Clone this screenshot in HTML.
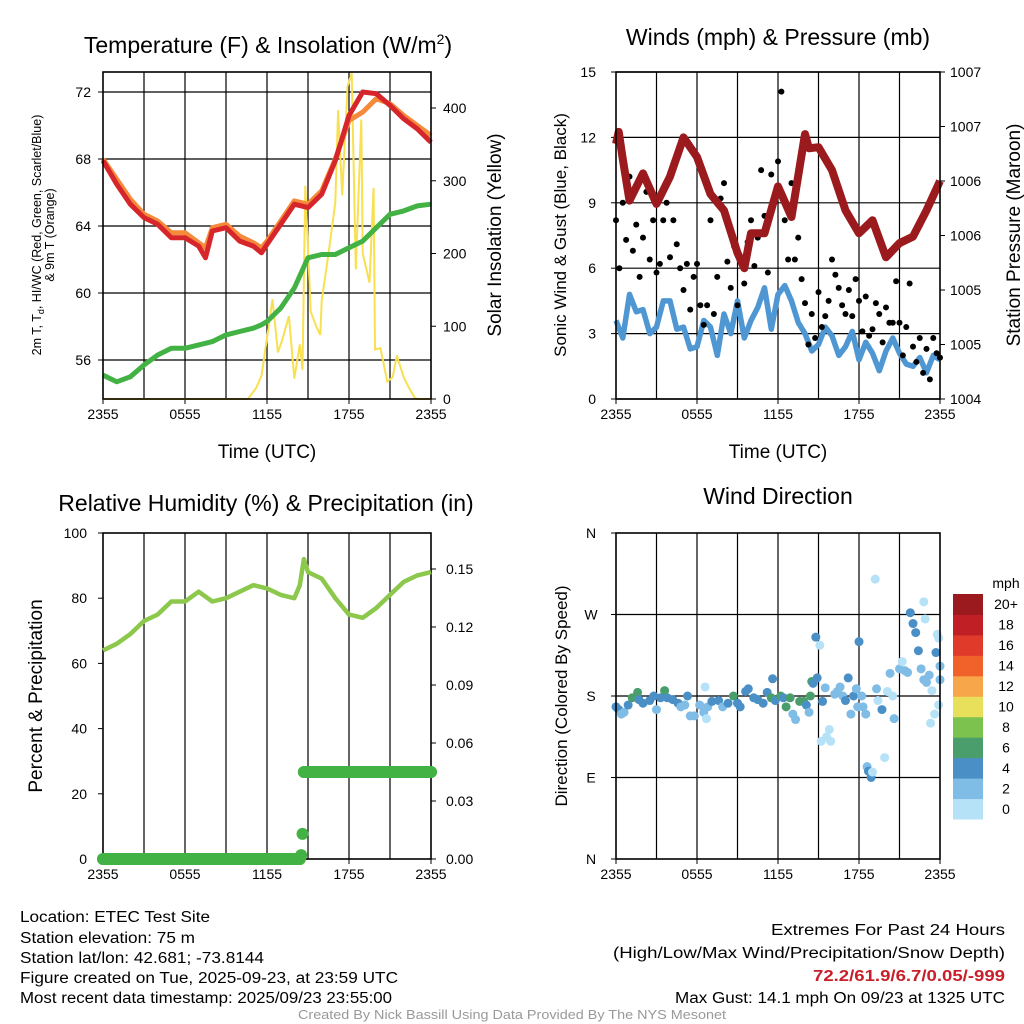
<!DOCTYPE html>
<html><head><meta charset="utf-8"><style>
html,body{margin:0;padding:0;background:#fff;}
svg{display:block;font-family:"Liberation Sans",sans-serif;}
</style></head><body>
<svg id="fig" width="1024" height="1024" viewBox="0 0 1024 1024" xmlns="http://www.w3.org/2000/svg">
<rect width="1024" height="1024" fill="#fff"/>
<g id="p1"></g>
<g id="p2"></g>
<g id="p3"></g>
<g id="p4"></g>

<text x="268" y="53" font-size="23" text-anchor="middle">Temperature (F) &amp; Insolation (W/m<tspan dy="-9" font-size="14">2</tspan><tspan dy="9">)</tspan></text>
<text x="778" y="45" font-size="23" text-anchor="middle">Winds (mph) &amp; Pressure (mb)</text>
<text x="266" y="511" font-size="23" text-anchor="middle">Relative Humidity (%) &amp; Precipitation (in)</text>
<text x="778" y="504" font-size="23" text-anchor="middle">Wind Direction</text>

<text x="267" y="458" font-size="19" text-anchor="middle">Time (UTC)</text>
<text x="778" y="458" font-size="19" text-anchor="middle">Time (UTC)</text>

<text transform="translate(41,235) rotate(-90)" font-size="12.5" text-anchor="middle">2m T, T<tspan dy="3" font-size="9">d</tspan><tspan dy="-3">, HI/WC (Red, Green, Scarlet/Blue)</tspan></text>
<text transform="translate(54,235) rotate(-90)" font-size="12.5" text-anchor="middle">&amp; 9m T (Orange)</text>
<text transform="translate(501,235) rotate(-90)" font-size="19" text-anchor="middle">Solar Insolation (Yellow)</text>
<text transform="translate(566,235) rotate(-90)" font-size="17" text-anchor="middle">Sonic Wind &amp; Gust (Blue, Black)</text>
<text transform="translate(1020,235) rotate(-90)" font-size="19" text-anchor="middle">Station Pressure (Maroon)</text>
<text transform="translate(42,696) rotate(-90)" font-size="19" text-anchor="middle">Percent &amp; Precipitation</text>
<text transform="translate(567,696) rotate(-90)" font-size="17" text-anchor="middle">Direction (Colored By Speed)</text>

<g font-size="15.5">
<text x="20" y="922" textLength="190" lengthAdjust="spacingAndGlyphs">Location: ETEC Test Site</text>
<text x="20" y="943" textLength="175" lengthAdjust="spacingAndGlyphs">Station elevation: 75 m</text>
<text x="20" y="963" textLength="244" lengthAdjust="spacingAndGlyphs">Station lat/lon: 42.681; -73.8144</text>
<text x="20" y="983" textLength="378" lengthAdjust="spacingAndGlyphs">Figure created on Tue, 2025-09-23, at 23:59 UTC</text>
<text x="20" y="1003" textLength="372" lengthAdjust="spacingAndGlyphs">Most recent data timestamp: 2025/09/23 23:55:00</text>
</g>
<g font-size="15.5" text-anchor="end">
<text x="1005" y="935" textLength="234" lengthAdjust="spacingAndGlyphs">Extremes For Past 24 Hours</text>
<text x="1005" y="958" textLength="392" lengthAdjust="spacingAndGlyphs">(High/Low/Max Wind/Precipitation/Snow Depth)</text>
<text x="1005" y="981" fill="#c8202a" font-weight="bold" textLength="192" lengthAdjust="spacingAndGlyphs">72.2/61.9/6.7/0.05/-999</text>
<text x="1005" y="1003" textLength="330" lengthAdjust="spacingAndGlyphs">Max Gust: 14.1 mph On 09/23 at 1325 UTC</text>
</g>
<text x="512" y="1019" font-size="12.5" fill="#999" text-anchor="middle" textLength="428" lengthAdjust="spacingAndGlyphs">Created By Nick Bassill Using Data Provided By The NYS Mesonet</text>
</svg>
<script>
// ---------- data ----------
const xTickLabels = ["2355","0555","1155","1755","2355"];
const hours = [0,1,2,3,4,5,6,7,7.5,8,9,10,11,11.6,12,13,14,15,16,17,18,19,20,21,22,23,24];
const tempRed = [67.9,66.5,65.3,64.5,64.1,63.3,63.3,62.8,62.1,63.7,63.9,63.1,62.8,62.4,62.9,64.1,65.3,65.1,65.9,67.9,70.6,72.0,71.9,71.2,70.4,69.8,69.0];
const tempOrange = [68.0,66.8,65.6,64.7,64.3,63.6,63.6,63.0,62.7,63.9,64.1,63.4,63.0,62.7,63.1,64.3,65.5,65.3,66.1,68.0,70.3,70.8,71.6,71.3,70.6,70.0,69.4];
const dewGreen = [55.1,54.7,55.0,55.7,56.3,56.7,56.7,56.9,57.0,57.1,57.5,57.7,57.9,58.1,58.3,59.1,60.3,62.1,62.3,62.3,62.7,63.1,63.9,64.7,64.9,65.2,65.3];
const tempTicks = [56,60,64,68,72];
const solarHours = [0,10.6,11.2,11.6,12.1,12.4,12.8,13.1,13.6,14.0,14.4,14.6,14.8,15.2,15.6,15.9,16.0,16.5,17.0,17.2,17.5,17.9,18.2,18.5,18.9,19.0,19.5,19.8,19.9,20.3,20.8,21.2,21.5,22.0,22.4,22.8,23.0,24];
const solarVals = [0,0,15,32,97,137,64,80,114,28,75,40,293,120,100,88,135,200,270,397,280,430,448,178,384,200,160,290,68,70,24,30,60,30,15,2,0,0];
const solarTicks = [0,100,200,300,400];
const presHours = [0,0.2,0.5,1,2,3,4,5,6,7,8,9,9.5,10,11,12,13,14,14.3,15,16,17,18,19,20,21,22,23,24];
const pressure = [1006.34,1006.45,1006.2,1005.82,1006.07,1005.79,1006.04,1006.4,1006.22,1005.88,1005.73,1005.34,1005.2,1005.52,1005.52,1005.95,1005.67,1006.43,1006.3,1006.31,1006.1,1005.73,1005.52,1005.64,1005.3,1005.43,1005.49,1005.73,1006.0];
const windSpeed = [3.6,2.8,4.8,4.0,4.1,3.0,3.3,4.5,4.5,3.2,3.3,2.3,2.4,3.6,3.3,2.0,3.9,3.0,4.5,2.8,3.6,4.2,5.1,3.2,4.8,5.2,4.5,3.5,3.0,2.2,2.5,3.3,2.9,2.0,2.4,3.1,1.8,2.6,2.1,1.3,2.2,2.8,2.1,1.6,1.5,1.9,1.2,2.0,1.8];
const gusts = [8.2,6.0,9.0,7.3,10.2,6.8,8.0,5.6,7.4,9.5,6.4,8.2,5.8,6.2,8.2,9.0,6.5,8.2,7.1,6.0,5.0,6.2,4.1,5.6,6.2,4.3,3.4,4.3,8.2,3.9,5.6,9.2,9.9,6.3,5.1,7.0,4.3,6.4,5.3,7.2,8.2,6.1,7.4,10.5,8.4,5.8,10.3,9.1,10.9,14.1,8.2,6.4,9.9,6.4,7.4,5.5,4.4,2.5,3.9,2.8,4.9,3.3,3.8,4.5,6.4,5.7,5.1,4.3,3.9,5.0,3.8,5.5,4.5,3.1,4.7,2.9,3.2,4.4,3.9,2.6,4.2,3.5,3.5,5.4,3.5,2.0,3.3,5.3,2.4,1.7,2.8,1.2,2.3,0.9,2.8,2.1,1.9];
const windTicks = [0,3,6,9,12,15];
const presTickLabels = ["1004","1005","1005","1006","1006","1007","1007"];
const rhHours = [0,1,2,3,4,5,6,7,8,9,10,11,12,13,14,14.4,14.7,15,16,17,18,19,20,21,22,23,24];
const rh = [64,66,69,73,75,79,79,82,79,80,82,84,83,81,80,84,92,88,86,80,75,74,77,81,85,87,88];
const precipHours = [0,14.4,14.5,14.6,14.7,24];
const precip = [0,0,0.002,0.013,0.045,0.045];
const rhTicks = [0,20,40,60,80,100];
const precipTickLabels = ["0.00","0.03","0.06","0.09","0.12","0.15"];
const dirHours = [0,0.2,0.4,0.6,0.9,1.2,1.6,1.7,2,2.5,2.8,3,3.3,3.6,3.8,4.2,4.6,4.8,5.1,5.3,5.5,5.8,6.2,6.5,6.8,6.6,6.7,7.1,7.6,7.9,8.3,8.7,9.0,9.2,9.6,9.8,10.2,10.5,10.9,11.2,11.5,11.8,11.6,12.2,12.4,12.6,12.9,13.1,13.3,13.6,13.9,14.1,14.3,14.4,14.5,14.6,14.9,14.8,15.1,15.2,15.3,15.5,15.6,15.8,15.9,16.2,16.4,16.6,16.8,17.0,17.2,17.4,17.6,17.8,17.9,18.0,18.2,18.3,18.5,18.6,18.7,18.9,19.0,19.4,19.3,19.7,20.3,20.1,20.5,20.6,19.9,21.0,21.2,21.4,21.6,21.8,22.0,22.2,22.4,22.6,22.8,23.0,23.2,23.4,23.6,23.9,24.0,23.3,23.7,23.8,23.9,24.0,19.2,22.8,22.9];
const dirDeg = [168,165,160,162,170,178,184,176,172,175,180,165,178,186,178,176,172,168,170,180,158,158,170,162,168,190,155,174,175,168,172,180,172,168,185,188,178,176,172,184,178,175,199,180,178,168,178,160,154,174,174,170,162,180,196,194,200,245,236,130,174,189,135,143,130,182,185,190,180,175,200,160,180,188,168,240,180,168,160,102,97,90,96,175,188,165,205,185,180,155,112,210,218,208,206,272,260,250,230,210,198,195,203,186,160,170,198,150,228,248,244,213,309,284,265];
const dirSpeed = [5,5,3,3,5,7,7,5,5,5,5,3,5,7,5,5,5,3,3,5,3,3,3,3,3,1,1,5,5,3,5,7,5,5,5,5,5,5,5,5,7,5,5,7,5,7,7,3,3,7,7,5,3,7,7,5,5,5,1,1,5,3,1,1,1,3,3,3,3,5,5,3,5,3,3,5,3,3,3,3,5,5,1,1,3,5,3,1,1,3,1,3,1,3,3,5,5,5,5,3,3,3,3,1,1,1,3,1,5,1,1,3,1,1,1];
const speedBinLabels = ["0","2","4","6","8","10","12","14","16","18","20+"];
const speedColors = ["#b6e2f8","#7fbce6","#4a8fc6","#4a9e6c","#7cc24e","#e8df5a","#f7a64a","#f0622a","#e03b2a","#c01f26","#9b1a1e"];
const dirTickLabels = ["N","E","S","W","N"];

// ---------- helpers ----------
const NS = "http://www.w3.org/2000/svg";
function mk(parent, tag, attrs){ const e=document.createElementNS(NS,tag); for(const k in attrs) e.setAttribute(k,attrs[k]); parent.appendChild(e); return e; }
function linScale(d0,d1,r0,r1){ return v=>r0+(v-d0)*(r1-r0)/(d1-d0); }

function frame(g, L, T, R, B, nameP){
  const xs = linScale(0,24,L,R);
  for(let h=3; h<24; h+=3){
    const ln = mk(g,'line',{x1:xs(h),x2:xs(h),y1:T,y2:B,stroke:'#000','stroke-width':1.2});
    
    
  }
  xTickLabels.forEach((lab,i)=>{
    const t = mk(g,'text',{x:xs(i*6),y:B+20,'font-size':14,'text-anchor':'middle'});
    t.textContent = lab;
    
    
    mk(g,'line',{x1:xs(i*6),x2:xs(i*6),y1:B,y2:B+5,stroke:'#000','stroke-width':1});
  });
  return xs;
}
function border(g,L,T,R,B){ mk(g,'rect',{x:L,y:T,width:R-L,height:B-T,fill:'none',stroke:'#000','stroke-width':1.6}); }
function hgrid(g,L,R,y,name){ const ln=mk(g,'line',{x1:L,x2:R,y1:y,y2:y,stroke:'#000','stroke-width':1.2});
    }
function ylab(g,x,y,txt,anchor,name,fs){ const t=mk(g,'text',{x:x,y:y+5,'font-size':fs||14,'text-anchor':anchor}); t.textContent=txt;
    }
function pathFrom(xsArr, ysArr, xs, ys){ return xsArr.map((v,i)=>(i?'L':'M')+xs(v).toFixed(1)+','+ys(ysArr[i]).toFixed(1)).join(''); }

// ---------- Panel 1 ----------
(function(){
  const g=document.getElementById('p1'); const L=103,T=72,R=431,B=399;
  const xs=frame(g,L,T,R,B,'temp');
  const yT=linScale(56,72,360,92); const yS=linScale(0,400,399,108);
  tempTicks.forEach(v=>{ hgrid(g,L,R,yT(v),'temp-hgrid'); ylab(g,L-12,yT(v),String(v),'end','temp-y-tick-label'); mk(g,'line',{x1:L-5,x2:L,y1:yT(v),y2:yT(v),stroke:'#000'}); });
  solarTicks.forEach(v=>{ ylab(g,R+12,yS(v),String(v),'start','solar-y-tick-label'); mk(g,'line',{x1:R,x2:R+5,y1:yS(v),y2:yS(v),stroke:'#000'}); });
  let p=mk(g,'path',{d:pathFrom(solarHours,solarVals,xs,yS),fill:'none',stroke:'#f8e051','stroke-width':2});
   
  p=mk(g,'path',{d:pathFrom(hours,dewGreen,xs,yT),fill:'none',stroke:'#43b244','stroke-width':5,'stroke-linejoin':'round'});
   
  p=mk(g,'path',{d:pathFrom(hours,tempOrange,xs,yT),fill:'none',stroke:'#f58a3a','stroke-width':5,'stroke-linejoin':'round'});
   
  p=mk(g,'path',{d:pathFrom(hours,tempRed,xs,yT),fill:'none',stroke:'#d7262b','stroke-width':5,'stroke-linejoin':'round'});
   
  border(g,L,T,R,B);
})();

// ---------- Panel 2 ----------
(function(){
  const g=document.getElementById('p2'); const L=616,T=72,R=940,B=399;
  const xs=frame(g,L,T,R,B,'wind');
  const yW=linScale(0,15,399,72); const yP=linScale(1004,1007,399,72);
  windTicks.forEach(v=>{ hgrid(g,L,R,yW(v),'wind-hgrid'); ylab(g,L-20,yW(v),String(v),'end','wind-y-tick-label'); mk(g,'line',{x1:L-5,x2:L,y1:yW(v),y2:yW(v),stroke:'#000'}); });
  presTickLabels.forEach((lab,i)=>{ const v=1004+i*0.5; ylab(g,R+10,yP(v),lab,'start','pressure-y-tick-label'); mk(g,'line',{x1:R,x2:R+5,y1:yP(v),y2:yP(v),stroke:'#000'}); });
  const wh=windSpeed.map((_,i)=>i*24/(windSpeed.length-1));
  let p=mk(g,'path',{d:pathFrom(wh,windSpeed,xs,yW),fill:'none',stroke:'#4f97d3','stroke-width':5.5,'stroke-linejoin':'round'});
   
  gusts.forEach((v,i)=>{ const c=mk(g,'circle',{cx:xs(i*24/(gusts.length-1)),cy:yW(v),r:3,fill:'#000'});
      });
  p=mk(g,'path',{d:pathFrom(presHours,pressure,xs,yP),fill:'none',stroke:'#9b1a1e','stroke-width':8,'stroke-linejoin':'round'});
   
  border(g,L,T,R,B);
})();

// ---------- Panel 3 ----------
(function(){
  const g=document.getElementById('p3'); const L=103,T=533,R=431,B=859;
  const xs=frame(g,L,T,R,B,'rh');
  const yR=linScale(0,100,859,533); const yPr=linScale(0,0.15,859,569);
  rhTicks.forEach(v=>{ ylab(g,L-16,yR(v),String(v),'end','rh-y-tick-label'); mk(g,'line',{x1:L-5,x2:L,y1:yR(v),y2:yR(v),stroke:'#000'}); });
  precipTickLabels.forEach(lab=>{ const v=parseFloat(lab); ylab(g,R+15,yPr(v),lab,'start','precip-y-tick-label'); mk(g,'line',{x1:R,x2:R+5,y1:yPr(v),y2:yPr(v),stroke:'#000'}); });
  border(g,L,T,R,B);
  let p=mk(g,'path',{d:pathFrom(rhHours,rh,xs,yR),fill:'none',stroke:'#8cc84b','stroke-width':4.5,'stroke-linejoin':'round'});
   
  for(let i=0;i<precipHours.length;i++){
    if(i<precipHours.length-1 && precipHours[i+1]-precipHours[i]>1){
      const ln=mk(g,'line',{x1:xs(precipHours[i]),x2:xs(precipHours[i+1]),y1:yPr(precip[i]),y2:yPr(precip[i]),stroke:'#43b244','stroke-width':12,'stroke-linecap':'round'});
       
    }
    const c=mk(g,'circle',{cx:xs(precipHours[i]),cy:yPr(precip[i]),r:6,fill:'#43b244'});
     
  }
})();

// ---------- Panel 4 ----------
(function(){
  const g=document.getElementById('p4'); const L=616,T=533,R=940,B=859;
  const xs=frame(g,L,T,R,B,'dir');
  const yD=linScale(0,360,859,533);
  dirTickLabels.forEach((lab,i)=>{ const v=i*90; if(i>0&&i<4) hgrid(g,L,R,yD(v),'dir-hgrid');
    ylab(g,591,yD(v),lab,'middle','dir-y-tick-label'); mk(g,'line',{x1:L-5,x2:L,y1:yD(v),y2:yD(v),stroke:'#000'}); });
  dirHours.forEach((h,i)=>{
    const bin=Math.min(10,Math.floor(dirSpeed[i]/2));
    const c=mk(g,'circle',{cx:xs(h),cy:yD(dirDeg[i]),r:4.5,fill:speedColors[bin]});
     
  });
  border(g,L,T,R,B);
  const cb=mk(g,'g',{});  
  const cbT=594, cbH=225/11;
  const mph=mk(cb,'text',{x:1006,y:588,'font-size':14,'text-anchor':'middle'}); mph.textContent='mph';
   
  speedColors.forEach((col,i)=>{
    const k=10-i; const y=cbT+k*cbH;
    const r=mk(cb,'rect',{x:953,y:y,width:30,height:cbH+0.5,fill:col});
     
    const t=mk(cb,'text',{x:1006,y:y+cbH/2+5,'font-size':14,'text-anchor':'middle'}); t.textContent=speedBinLabels[i];
     
  });
})();
</script>
</body></html>
